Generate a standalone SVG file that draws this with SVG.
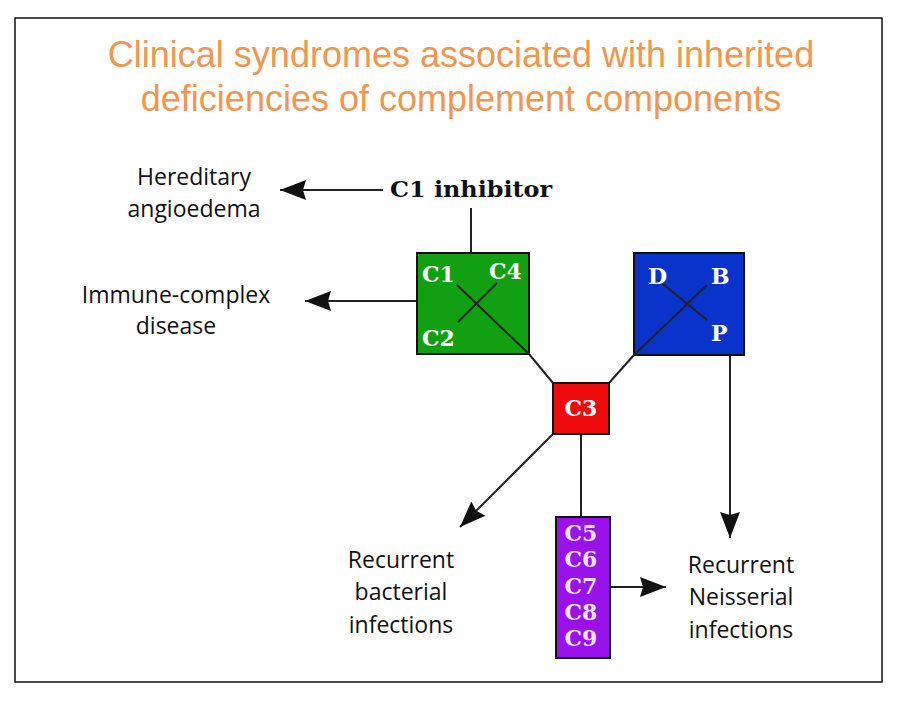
<svg xmlns="http://www.w3.org/2000/svg" width="900" height="702" viewBox="0 0 900 702">
<defs>
<marker id="ah" markerUnits="userSpaceOnUse" markerWidth="27" markerHeight="22" refX="26" refY="11" orient="auto">
<path d="M0,1 L26,11 L0,21 L3,11 z" fill="#111"/>
</marker>
<style>
.conn{stroke:#222;stroke-width:2;fill:none}
.box{stroke:#111;stroke-width:2}
.lbl{font-family:"Open Sans","Liberation Sans",sans-serif;font-size:23px;fill:#111;text-anchor:middle}
.bx{font-family:"DejaVu Serif","Liberation Serif",serif;font-weight:bold;font-size:22px;fill:#fff}
.pl{font-family:"DejaVu Serif","Liberation Serif",serif;font-weight:bold;font-size:22px;fill:#f0e2ff;text-anchor:middle}
.title{font-family:"Liberation Sans",Arial,sans-serif;font-size:36px;fill:#f0964e;text-anchor:middle}
</style>
</defs>
<rect x="0" y="0" width="900" height="702" fill="#fff"/>
<rect x="15" y="18" width="867" height="664" fill="none" stroke="#111" stroke-width="1.5"/>
<g id="title">
<text class="title" x="461" y="67">Clinical syndromes associated with inherited</text>
<text class="title" x="461" y="111">deficiencies of complement components</text>
</g>
<g id="connectors">
<line class="conn" x1="383" y1="190" x2="280" y2="190" marker-end="url(#ah)"/>
<line class="conn" x1="471" y1="208" x2="471" y2="253"/>
<line class="conn" x1="417" y1="301" x2="305" y2="301" marker-end="url(#ah)"/>
<line class="conn" x1="529" y1="354" x2="553" y2="383"/>
<line class="conn" x1="634" y1="355" x2="609" y2="383"/>
<line class="conn" x1="553" y1="434" x2="460" y2="527" marker-end="url(#ah)"/>
<line class="conn" x1="581" y1="434" x2="581" y2="517"/>
<line class="conn" x1="730" y1="355" x2="730" y2="538" marker-end="url(#ah)"/>
<line class="conn" x1="610" y1="587" x2="666" y2="587" marker-end="url(#ah)"/>
</g>
<g id="c1inh">
<text x="390" y="197" font-family="DejaVu Serif,Liberation Serif,serif" font-weight="bold" font-size="22" fill="#111" textLength="162" lengthAdjust="spacingAndGlyphs">C1 inhibitor</text>
</g>
<g id="c1c4c2">
<rect class="box" x="417" y="253" width="112" height="101" fill="#11a011"/>
<line class="conn" x1="457" y1="285" x2="529" y2="354"/>
<line class="conn" x1="497" y1="283" x2="458" y2="322"/>
<text class="bx" x="422" y="282">C1</text>
<text class="bx" x="489" y="279">C4</text>
<text class="bx" x="422" y="346">C2</text>
</g>
<g id="dbp">
<rect class="box" x="634" y="253" width="110" height="102" fill="#0a33cc"/>
<line class="conn" x1="658" y1="280" x2="707" y2="320"/>
<line class="conn" x1="707" y1="285" x2="634" y2="355"/>
<text class="bx" x="648" y="284">D</text>
<text class="bx" x="711" y="284">B</text>
<text class="bx" x="711" y="341">P</text>
</g>
<g id="c3">
<rect class="box" x="553" y="383" width="56" height="51" fill="#ee0a0a"/>
<text class="bx" x="581" y="416" text-anchor="middle">C3</text>
</g>
<g id="c5c9">
<rect class="box" x="556" y="517" width="54" height="141" fill="#9a12ea"/>
<text class="pl" x="581" y="541">C5</text>
<text class="pl" x="581" y="567">C6</text>
<text class="pl" x="581" y="594">C7</text>
<text class="pl" x="581" y="620">C8</text>
<text class="pl" x="581" y="646">C9</text>
</g>
<g id="hae">
<text class="lbl" x="194" y="185">Hereditary</text>
<text class="lbl" x="194" y="217">angioedema</text>
</g>
<g id="icd">
<text class="lbl" x="176" y="303">Immune-complex</text>
<text class="lbl" x="176" y="334">disease</text>
</g>
<g id="rbi">
<text class="lbl" x="401" y="568">Recurrent</text>
<text class="lbl" x="401" y="600">bacterial</text>
<text class="lbl" x="401" y="633">infections</text>
</g>
<g id="rni">
<text class="lbl" x="741" y="573">Recurrent</text>
<text class="lbl" x="741" y="605">Neisserial</text>
<text class="lbl" x="741" y="638">infections</text>
</g>
</svg>
